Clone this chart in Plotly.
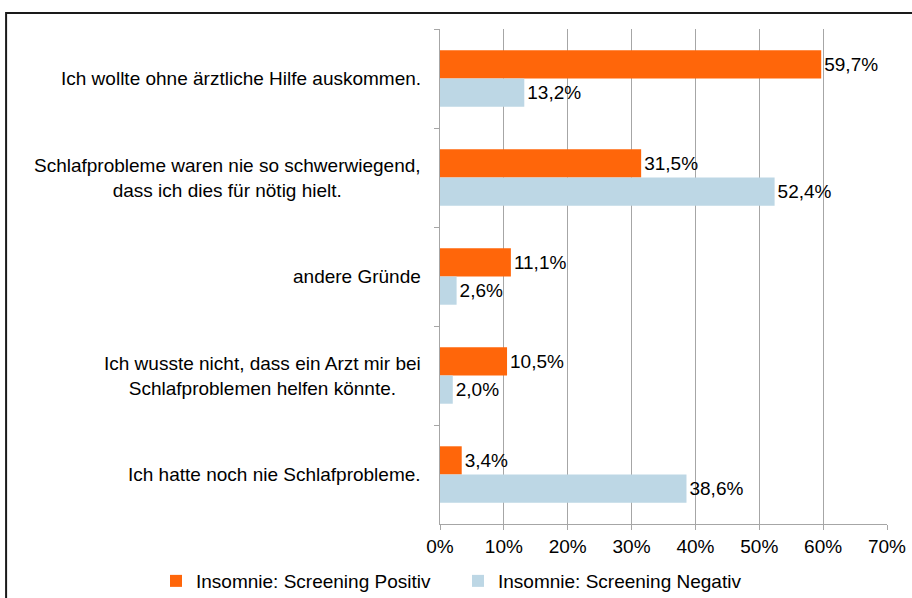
import plotly.graph_objects as go

# Reasons given for not consulting a doctor about sleep problems
categories = [
    "Ich wollte ohne ärztliche Hilfe auskommen.",
    "Schlafprobleme waren nie so schwerwiegend,<br>dass ich dies für nötig hielt.",
    "andere Gründe",
    "Ich wusste nicht, dass ein Arzt mir bei<br>Schlafproblemen helfen könnte.",
    "Ich hatte noch nie Schlafprobleme.",
]
positive = [59.7, 31.5, 11.1, 10.5, 3.4]
negative = [13.2, 52.4, 2.6, 2.0, 38.6]
series_names = ["Insomnie: Screening Positiv", "Insomnie: Screening Negativ"]
x_ticks = [0, 10, 20, 30, 40, 50, 60, 70]

ORANGE = "#FF660A"
BLUE = "#BDD7E5"
FONT = "Liberation Sans, Arial, sans-serif"
FS = 19


def fmt(v):
    return f"{v:.1f}".replace(".", ",") + "%"


fig = go.Figure()
for name, vals, col in [(series_names[0], positive, ORANGE), (series_names[1], negative, BLUE)]:
    fig.add_trace(go.Bar(
        y=categories, x=vals, orientation="h", name=name,
        marker=dict(color=col, line=dict(width=0)),
        text=[fmt(v) for v in vals], textposition="outside",
        textfont=dict(family=FONT, size=FS, color="#000000"),
        cliponaxis=False,
    ))

# Category labels: right-aligned block, lines centered within it
for c in categories:
    fig.add_annotation(
        x=0, xref="paper", y=c, yref="y", text=c, showarrow=False,
        xanchor="right", align="center", xshift=-17,
        font=dict(family=FONT, size=FS, color="#000000"),
    )

# Outer chart frame (runs past the right and bottom edges)
fig.add_shape(type="rect", xref="paper", yref="paper",
              x0=-0.9707, x1=1.2, y0=-0.3, y1=1.0323,
              line=dict(color="#1a1a1a", width=2), fillcolor="rgba(0,0,0,0)", layer="below")

fig.update_layout(
    width=912, height=598,
    margin=dict(l=440, r=25, t=29, b=74, autoexpand=False),
    barmode="group", bargap=0.43, bargroupgap=0.0,
    plot_bgcolor="white", paper_bgcolor="white",
    font=dict(family=FONT, size=FS, color="#000000"),
    showlegend=True,
    legend=dict(orientation="h", xref="paper", yref="paper",
                x=(156 - 440) / 447, xanchor="left", y=-0.1152, yanchor="middle",
                entrywidth=257, entrywidthmode="pixels",
                font=dict(family=FONT, size=FS), itemwidth=30,
                traceorder="normal", bgcolor="rgba(0,0,0,0)"),
    xaxis=dict(range=[0, 70], tickvals=x_ticks, ticktext=[f"{t}%" for t in x_ticks],
               showgrid=True, gridcolor="#A6A6A6", gridwidth=1,
               showline=True, linecolor="#A6A6A6", linewidth=1,
               ticks="outside", ticklen=5, tickcolor="#A6A6A6",
               zeroline=False, tickfont=dict(family=FONT, size=FS)),
    yaxis=dict(autorange="reversed", showticklabels=False,
               showline=True, linecolor="#A6A6A6", linewidth=1,
               ticks="outside", tickson="boundaries", ticklen=5, tickcolor="#A6A6A6",
               showgrid=False),
)

fig.write_html("out.html")
